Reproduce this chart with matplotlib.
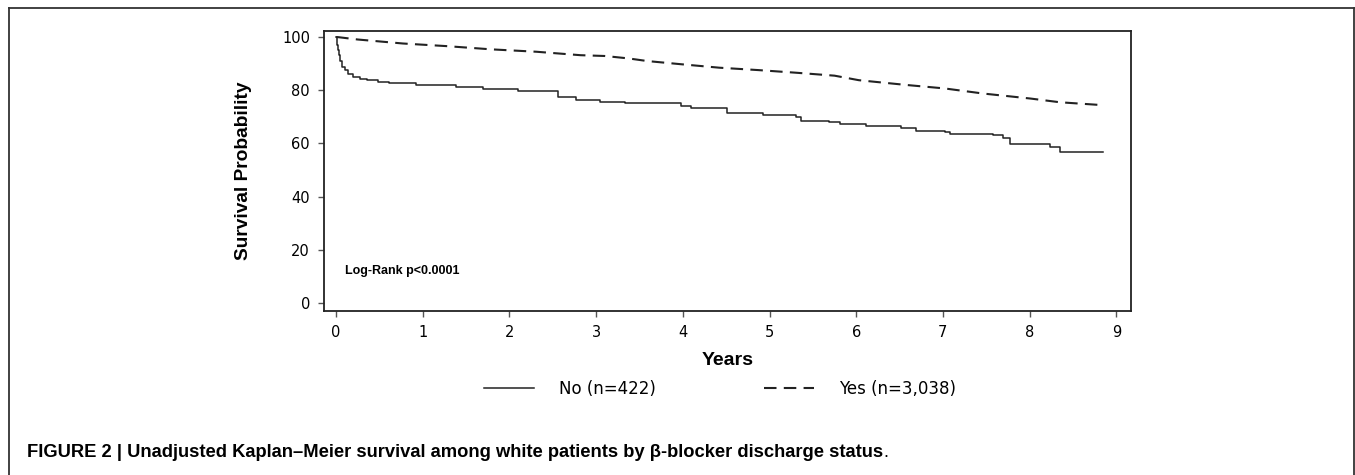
import numpy as np
import matplotlib
matplotlib.use('Agg')
from matplotlib import pyplot as plt
from matplotlib.lines import Line2D

# Kaplan-Meier curves (years, survival %)
no_t = [0, 0.01, 0.02, 0.03, 0.05, 0.07, 0.10, 0.14, 0.20, 0.28, 0.36, 0.48,
        0.61, 0.92, 1.38, 1.69, 2.10,
        2.56, 2.77, 3.04, 3.33, 3.65, 3.98, 4.09, 4.51, 4.92, 5.30, 5.36, 5.69,
        5.81, 6.11, 6.52, 6.69, 7.02, 7.08, 7.58, 7.69, 7.77, 8.24, 8.35, 8.85]
no_s = [100, 97, 95, 93.2, 91, 88.8, 87.5, 86.3, 85.1, 84.4, 83.8, 83.3,
        82.8, 82.0, 81.3, 80.3, 79.8,
        77.6, 76.3, 75.7, 75.1, 75.1, 74.1, 73.2, 71.3, 70.7, 70.0, 68.5, 68.2,
        67.2, 66.5, 66.0, 64.7, 64.4, 63.4, 63.2, 62.1, 59.8, 58.8, 56.9, 56.9]

yes_t = [0, 0.02, 0.25, 0.77, 1.28, 1.79, 2.31, 2.82, 3.10, 3.37, 3.59, 3.98,
         4.42, 4.87, 5.31, 5.75, 6.03, 6.58, 7.02, 7.46, 8.01, 8.35, 8.85]
yes_s = [100, 100, 99.1, 97.6, 96.6, 95.4, 94.5, 93.2, 92.9, 92.0, 91.0, 89.8,
         88.5, 87.6, 86.6, 85.5, 83.8, 82.0, 80.7, 78.8, 76.9, 75.5, 74.4]

labels = ['No (n=422)', 'Yes (n=3,038)']
xticks = list(range(0, 10))
yticks = [0, 20, 40, 60, 80, 100]

W, H = 1355, 475
fig = plt.figure(figsize=(W / 100, H / 100), dpi=100)

# outer figure frame (open at the bottom)
for xs, ys in [([9, 9], [475, 7.5]), ([9, 1354], [7.5, 7.5]), ([1354, 1354], [7.5, 475])]:
  fig.add_artist(Line2D([x / W for x in xs], [1 - y / H for y in ys],
                        color='#333333', lw=1.3))

ax = fig.add_axes([324 / W, 1 - 311 / H, (1131 - 324) / W, (311 - 31) / H])
ax.plot(no_t, no_s, color='#222222', lw=1.1, drawstyle='steps-post')
ax.plot(yes_t, yes_s, color='#222222', lw=1.5, dashes=(6, 3.5))

ax.set_xlim(-0.14, 9.17)
ax.set_ylim(-3, 102.3)
ax.set_xticks(xticks)
ax.set_yticks(yticks)
ax.tick_params(labelsize=10.5, length=4, width=1, color='#555555', pad=6)
for s in ax.spines.values():
  s.set_linewidth(1.3)
  s.set_color('#222222')

ax.set_xlabel('Years', family='Liberation Sans', fontweight='bold',
              fontsize=14, labelpad=9)
ax.set_ylabel('Survival Probability', family='Liberation Sans',
              fontweight='bold', fontsize=13.8, labelpad=22)

ax.text(0.1, 12, 'Log-Rank p<0.0001', family='Liberation Sans',
        fontweight='bold', fontsize=9, va='center')

handles = [Line2D([], [], color='#222222', lw=1.1),
           Line2D([], [], color='#222222', lw=1.5, dashes=(6, 3.5))]
fig.legend(handles, labels, loc='center', ncol=2, frameon=False,
           bbox_to_anchor=(720 / W, 1 - 389 / H), fontsize=12,
           handlelength=3, handletextpad=1.5, columnspacing=6.5)

# caption: bold text followed by a regular-weight full stop
cap = fig.text(27 / W, 1 - 457 / H,
               'FIGURE 2 | Unadjusted Kaplan\u2013Meier survival among white '
               'patients by \u03b2-blocker discharge status',
               family='Liberation Sans', fontweight='bold', fontsize=13.2,
               va='baseline')
fig.canvas.draw()
ax.annotate('.', xy=(1, 0), xycoords=cap, xytext=(0, 0),
            textcoords='offset points', family='Liberation Sans',
            fontsize=13.2, va='bottom', annotation_clip=False)
plt.savefig('out.png', dpi=100)
